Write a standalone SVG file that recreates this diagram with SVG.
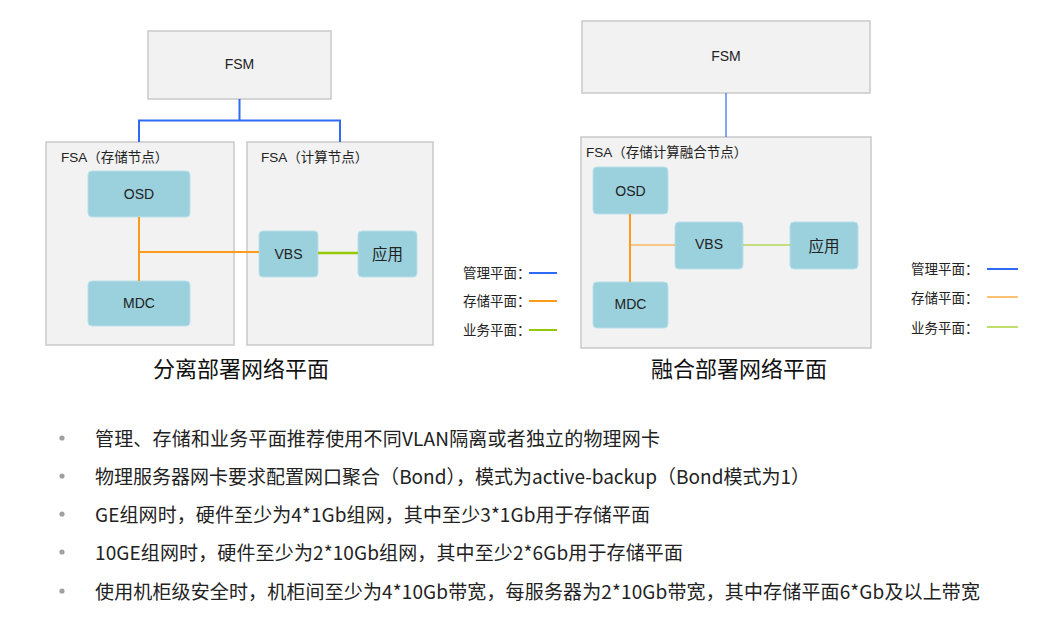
<svg xmlns="http://www.w3.org/2000/svg" width="1056" height="629" viewBox="0 0 1056 629">
<style>
.box{fill:#f2f2f2;stroke:#c9c9c9;stroke-width:1.5}
.node{fill:#9bd0dd;stroke:#b8e0ea;stroke-width:1}
.t{font-family:"Liberation Sans","Noto Sans CJK SC",sans-serif;font-size:13.5px;fill:#222}
.tc{font-family:"Liberation Sans","Noto Sans CJK SC",sans-serif;font-size:14px;fill:#222;text-anchor:middle;dominant-baseline:central}
.cj{font-family:"Noto Sans CJK SC",sans-serif;font-size:15.5px;fill:#222;text-anchor:middle;dominant-baseline:central}
.lg{font-family:"Noto Sans CJK SC",sans-serif;font-size:13.5px;fill:#222;dominant-baseline:central}
.title{font-family:"Noto Sans CJK SC",sans-serif;font-size:22px;fill:#111;text-anchor:middle;dominant-baseline:central}
.b{font-family:"Noto Sans CJK SC",sans-serif;font-size:19px;fill:#222;dominant-baseline:central}
.blue{stroke:#3069f5;fill:none}
.orange{stroke:#ff9a1a;fill:none}
.green{stroke:#96c80a;fill:none}
</style>
<rect width="1056" height="629" fill="#fff"/>

<g id="left-fsm"><rect class="box" x="148" y="31" width="183" height="68"/><text class="tc" x="239.5" y="64">FSM</text></g>
<g id="left-fsa-storage"><rect class="box" x="46" y="142" width="188" height="203"/><text class="t" x="61" y="162">FSA（存储节点）</text></g>
<g id="left-fsa-compute"><rect class="box" x="247" y="142" width="186" height="203"/><text class="t" x="261" y="162">FSA（计算节点）</text></g>
<g id="left-osd"><rect class="node" x="88" y="171" width="102" height="46" rx="4"/><text class="tc" x="139" y="194">OSD</text></g>
<g id="left-mdc"><rect class="node" x="88" y="281" width="102" height="45" rx="4"/><text class="tc" x="139" y="303">MDC</text></g>
<g id="left-vbs"><rect class="node" x="259" y="231" width="59" height="46" rx="4"/><text class="tc" x="288.5" y="254">VBS</text></g>
<g id="left-app"><rect class="node" x="358" y="231" width="59" height="46" rx="4"/><text class="cj" x="387.5" y="253">应用</text></g>

<g id="right-fsm"><rect class="box" x="582" y="21" width="288" height="72"/><text class="tc" x="726" y="56">FSM</text></g>
<g id="right-fsa"><rect class="box" x="581" y="137" width="290" height="211"/><text class="t" x="586" y="157">FSA（存储计算融合节点）</text></g>
<g id="right-osd"><rect class="node" x="593" y="167" width="75" height="47" rx="4"/><text class="tc" x="630.5" y="191">OSD</text></g>
<g id="right-mdc"><rect class="node" x="593" y="282" width="75" height="46" rx="4"/><text class="tc" x="630.5" y="304">MDC</text></g>
<g id="right-vbs"><rect class="node" x="675" y="222" width="68" height="47" rx="4"/><text class="tc" x="709" y="244">VBS</text></g>
<g id="right-app"><rect class="node" x="790" y="222" width="68" height="47" rx="4"/><text class="cj" x="824" y="245">应用</text></g>

<g id="connectors">
<path class="blue" stroke-width="2" d="M239.5 99V120.5M139 142V120.5H340V142"/>
<path class="orange" stroke-width="2" d="M139 217V281M139 252H259"/>
<path class="green" stroke-width="2.5" d="M318 253H358"/>
<path class="blue" stroke-width="1.2" d="M726 93V137"/>
<path class="orange" stroke-width="2" d="M630 214V282"/>
<path class="orange" stroke-width="1.2" d="M630 245H675"/>
<path class="green" stroke-width="1.2" d="M743 245H790"/>
</g>

<g id="legend-left">
<text class="lg" x="463" y="272">管理平面：</text><path class="blue" stroke-width="2" d="M529 273H557"/>
<text class="lg" x="463" y="300">存储平面：</text><path class="orange" stroke-width="2" d="M529 301H557"/>
<text class="lg" x="463" y="329">业务平面：</text><path class="green" stroke-width="2" d="M529 330H557"/>
</g>
<g id="legend-right">
<text class="lg" x="911" y="268">管理平面：</text><path class="blue" stroke-width="2" d="M987 269H1018"/>
<text class="lg" x="911" y="297">存储平面：</text><path class="orange" stroke-width="1.2" d="M987 297H1018"/>
<text class="lg" x="911" y="327">业务平面：</text><path class="green" stroke-width="1.2" d="M987 327H1018"/>
</g>

<text class="title" x="241" y="367">分离部署网络平面</text>
<text class="title" x="739" y="367">融合部署网络平面</text>

<g id="bullets" fill="#a0a0a0">
<circle cx="62" cy="438" r="2.6"/><circle cx="62" cy="476" r="2.6"/><circle cx="62" cy="514" r="2.6"/><circle cx="62" cy="552" r="2.6"/><circle cx="62" cy="591" r="2.6"/>
</g>
<text class="b" x="95" y="437" textLength="565" lengthAdjust="spacing">管理、存储和业务平面推荐使用不同VLAN隔离或者独立的物理网卡</text>
<text class="b" x="95" y="475" textLength="715" lengthAdjust="spacing">物理服务器网卡要求配置网口聚合（Bond），模式为active-backup（Bond模式为1）</text>
<text class="b" x="95" y="513" textLength="555" lengthAdjust="spacing">GE组网时，硬件至少为4*1Gb组网，其中至少3*1Gb用于存储平面</text>
<text class="b" x="95" y="551" textLength="588" lengthAdjust="spacing">10GE组网时，硬件至少为2*10Gb组网，其中至少2*6Gb用于存储平面</text>
<text class="b" x="95" y="590" textLength="885" lengthAdjust="spacing">使用机柜级安全时，机柜间至少为4*10Gb带宽，每服务器为2*10Gb带宽，其中存储平面6*Gb及以上带宽</text>
</svg>
